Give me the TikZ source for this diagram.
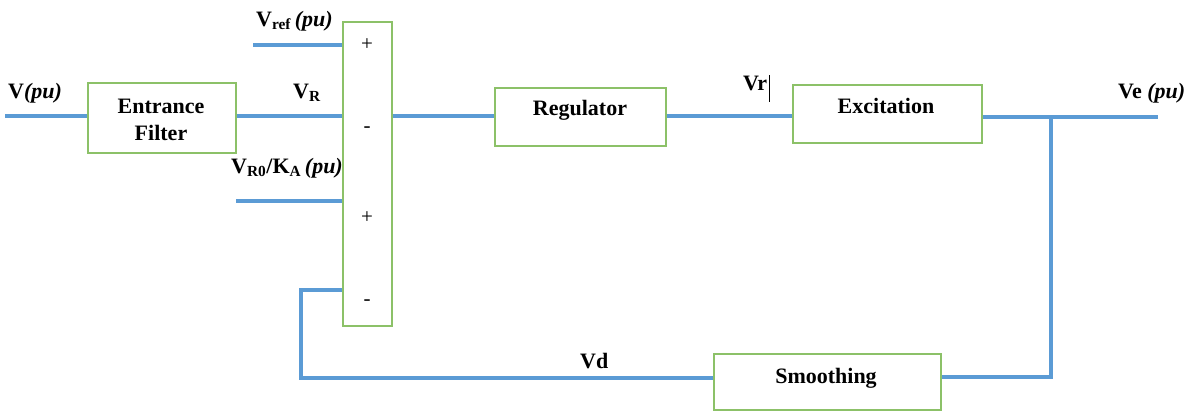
\documentclass[tikz,border=0pt]{standalone}
\usepackage{fontspec}
\setmainfont{Liberation Serif}
\begin{document}
\begin{tikzpicture}[x=1pt,y=-1pt,
  sig/.style={draw=wire,line width=4pt},
  blk/.style={draw=frame,line width=1.4pt,fill=white,inner sep=0pt},
  lbl/.style={inner sep=0pt,font=\fontsize{22}{26}\selectfont\bfseries},
  sgn/.style={inner sep=0pt,font=\fontsize{21}{24}\selectfont}]
\definecolor{wire}{HTML}{5B9BD5}
\definecolor{frame}{HTML}{8CC168}
\useasboundingbox (0,0) rectangle (1199,410);

% blocks
\node[blk,minimum width=148pt,minimum height=70pt] (filt) at (162,118) {};
\node[blk,minimum width=49pt,minimum height=304pt] (sum) at (367.5,174) {};
\node[blk,minimum width=171pt,minimum height=58pt] (reg) at (580.5,117) {};
\node[blk,minimum width=189pt,minimum height=58pt] (exc) at (887.5,114) {};
\node[blk,minimum width=227pt,minimum height=56pt] (smo) at (827.5,382) {};

% terminals and corners
\coordinate (vin) at (5,116);
\coordinate (vref) at (253,45);
\coordinate (vr0) at (236,201);
\coordinate (vout) at (1158,117);
\coordinate (tap) at (1051,117);
\coordinate (fbA) at (301,290);
\coordinate (fbB) at (301,378);
\coordinate (smoR) at (1051,377);

% forward path
\draw[sig] (vin) -- (vin -| filt.west);
\draw[sig] (filt.east |- vin) -- (sum.west |- vin);
\draw[sig] (vref) -- (vref -| sum.west);
\draw[sig] (vr0) -- (vr0 -| sum.west);
\draw[sig] (sum.east |- vin) -- (reg.west |- vin);
\draw[sig] (reg.east |- vin) -- (exc.west |- vin);
\draw[sig] (exc.east |- vout) -- (vout);

% feedback path
\draw[sig] (tap) -- (smoR) -- (smoR -| smo.east);
\draw[sig] (smo.west |- fbB) -- (fbB) -- (fbA) -- (fbA -| sum.west);

% block texts
\node[lbl,anchor=base] at (161,113) {Entrance};
\node[lbl,anchor=base] at (161,140) {Filter};
\node[lbl,anchor=base] at (580,115) {Regulator};
\node[lbl,anchor=base] at (886,113) {Excitation};
\node[lbl,anchor=base] at (826,383) {Smoothing};

% summing signs
\node[sgn] at (367,45) {+};
\node[sgn] at (367,130) {-};
\node[sgn] at (367,218) {+};
\node[sgn] at (367,303) {-};

% signal names
\node[lbl,anchor=base west] at (8,98) {V\textit{(pu)}};
\node[lbl,anchor=base west] at (293,98) {V\textsubscript{R}};
\node[lbl,anchor=base west] at (256,26) {V\textsubscript{ref}\,\textit{(pu)}};
\node[lbl,anchor=base west] at (231,173) {V\textsubscript{R0}/K\textsubscript{A}\,\textit{(pu)}};
\node[lbl,anchor=base west] (vrl) at (743,90) {Vr};
\draw[line width=0.9pt] (769,75) -- (769,102);
\node[lbl,anchor=base west] at (1118,98) {Ve \textit{(pu)}};
\node[lbl,anchor=base west] at (580,368) {Vd};
\end{tikzpicture}
\end{document}
